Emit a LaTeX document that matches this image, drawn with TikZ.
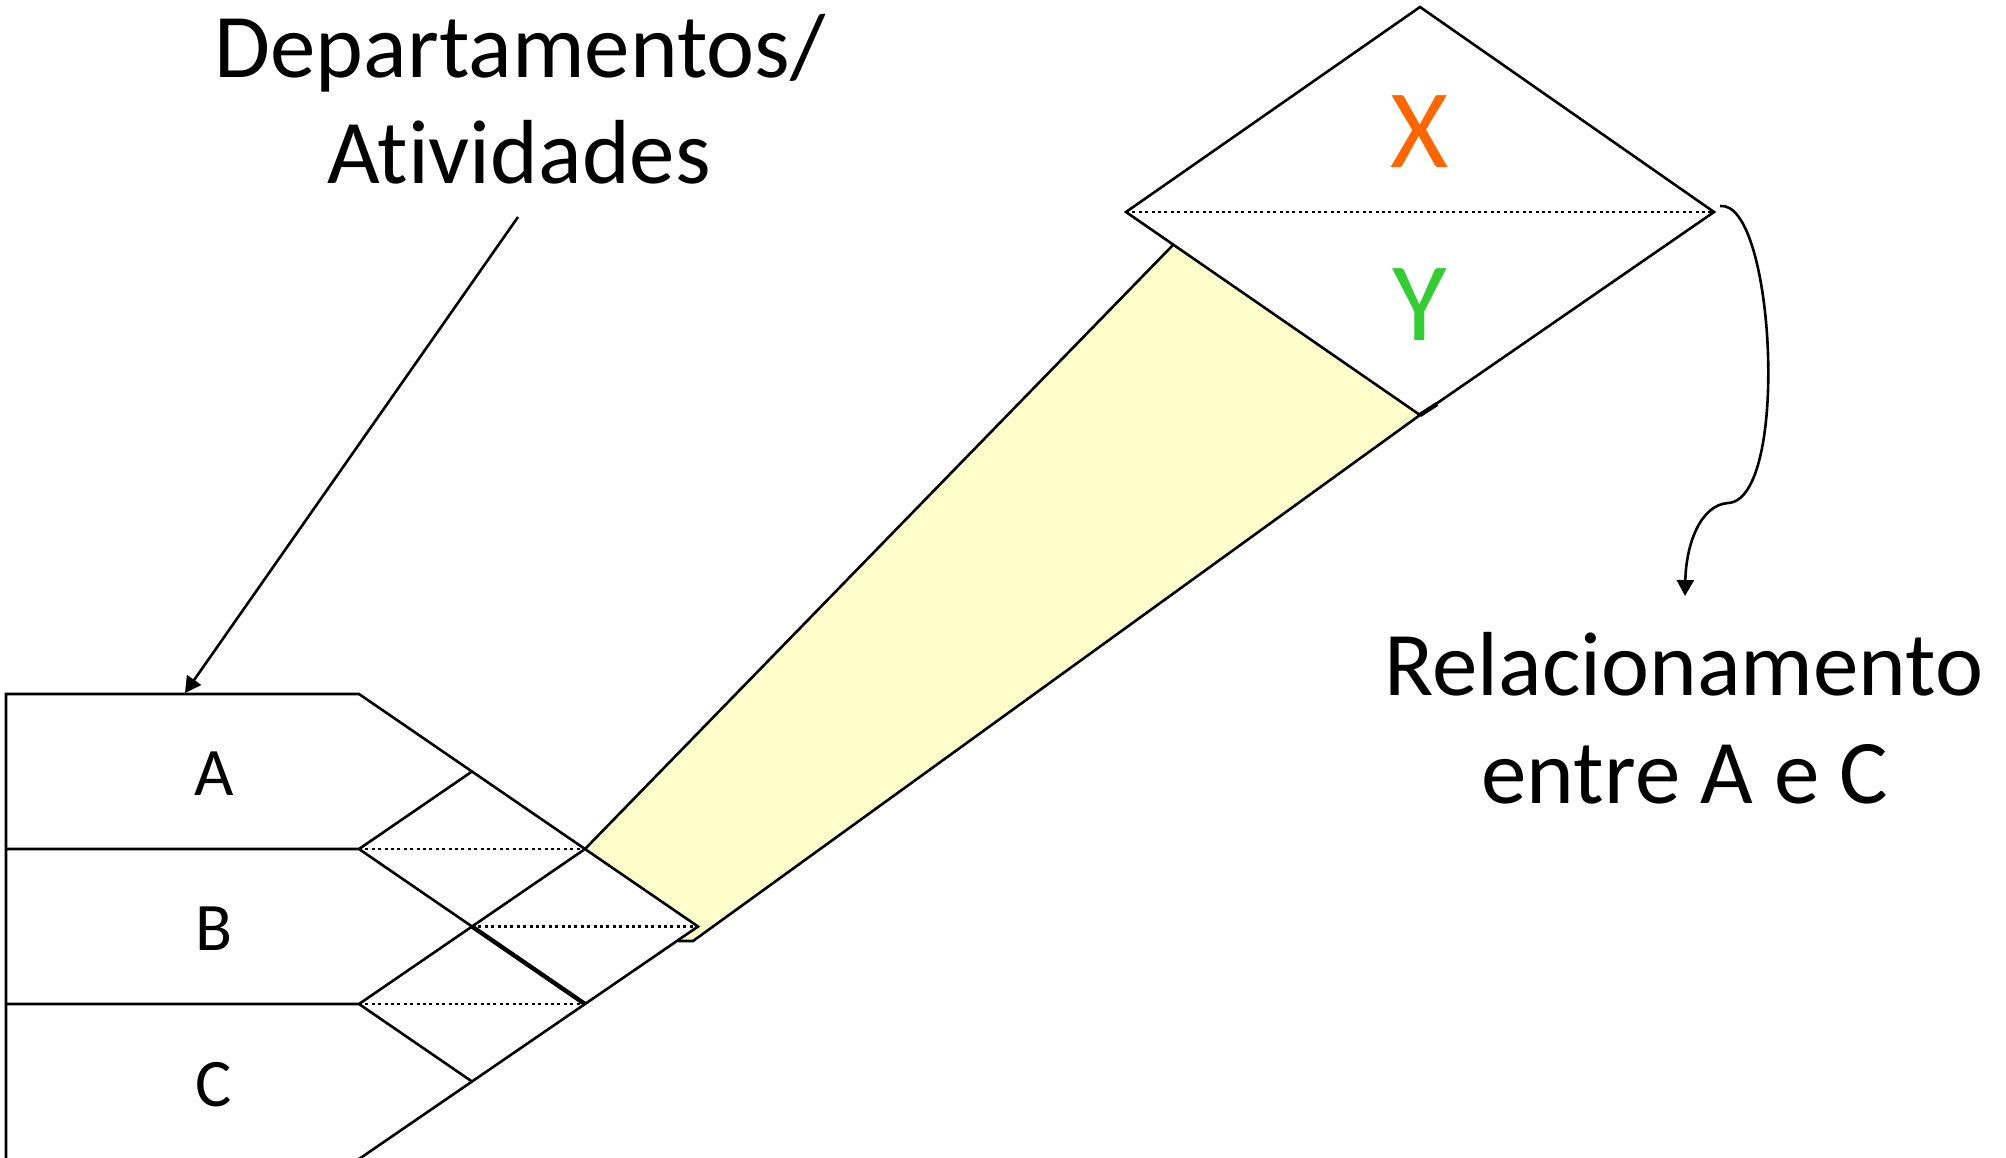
\documentclass[tikz,border=0pt]{standalone}
\usepackage{fontspec}
\setmainfont{Carlito}[Ligatures=NoCommon]
\usetikzlibrary{arrows.meta}
\definecolor{xorange}{HTML}{FF6600}
\definecolor{ygreen}{HTML}{33CC33}
\definecolor{paleyellow}{HTML}{FFFFCC}
\begin{document}
\begin{tikzpicture}[x=0.5pt,y=-0.5pt,line join=miter,
  edge/.style={line width=1.3pt},
  dots/.style={line width=1.3pt,dash pattern=on 1.5pt off 1.7pt},
  lbl/.style={font=\fontsize{45.5}{54}\selectfont,inner sep=0pt,anchor=base},
  cell/.style={font=\fontsize{34}{40}\selectfont,inner sep=0pt},
  big/.style={font=\fontsize{56}{64}\selectfont,inner sep=0pt},
  tip/.style={-{Triangle[width=8.5pt,length=8pt]}}]
\useasboundingbox (0,0) rectangle (2006,1157);

% grid points of the triangular correlation matrix
\coordinate (p00) at (359,694);
\coordinate (p11) at (472,771.5);
\coordinate (p22) at (585,849);
\coordinate (p33) at (698,926.5);
\coordinate (p02) at (359,849);
\coordinate (p13) at (472,926.5);
\coordinate (p24) at (585,1004);
\coordinate (p04) at (359,1004);
\coordinate (p15) at (472,1081.5);
\coordinate (p06) at (359,1159);
\coordinate (l0) at (6,694);
\coordinate (l2) at (6,849);
\coordinate (l4) at (6,1004);
\coordinate (lb) at (6,1160);

% enlarged cell
\coordinate (dt) at (1420,7);
\coordinate (dl) at (1126,212);
\coordinate (dr) at (1714,212);
\coordinate (db) at (1420,415);
\coordinate (dbx) at (1437,404);

% projection band
\coordinate (ya) at (1173,245);
\coordinate (yb) at (693,941);
\coordinate (yc) at (678,941);

\fill[paleyellow] (p22) -- (ya) -- (db) -- (yb) -- (yc) -- (p33) -- cycle;
\draw[edge] (p22) -- (ya);
\draw[edge] (db) -- (yb) -- (yc);

% rows and roof
\draw[edge] (lb) -- (l0) -- (p00) -- (p11) -- (p22) -- (p33) -- (p24) -- (p15) -- (p06);
\draw[edge] (l2) -- (p02) -- (p13);
\draw[line width=2.2pt] (p13) -- (p24);
\draw[edge] (p02) -- (p11);
\draw[edge] (l4) -- (p04) -- (p15);
\draw[edge] (p04) -- (p13) -- (p22);
\draw[dots] (p02) -- (p22);
\draw[dots] (p13) -- (p33);
\draw[dots] (p04) -- (p24);

\node[cell] (ra) at (214,774) {A};
\node[cell] (rb) at (214,929) {B};
\node[cell] (rc) at (214,1085) {C};

% enlarged cell with its two values
\draw[edge,fill=white] (dt) -- (dr) -- (db) -- (dl) -- cycle;
\draw[dots] (dl) -- (dr);
\draw[line width=2.2pt] (db) -- (dbx);
\node[big,text=xorange] (vx) at (1420,132) {X};
\node[big,text=ygreen] (vy) at (1420,305) {Y};

% labels
\node[lbl] (dep1) at (520,77) {Departamentos/};
\node[lbl] (dep2) at (519,183) {Atividades};
\coordinate (depa) at (518,217);
\coordinate (depb) at (185,693);
\draw[edge,tip] (depa) -- (depb);

\node[lbl] (rel1) at (1684,695) {Relacionamento};
\node[lbl] (rel2) at (1685,803) {entre A e C};
\coordinate (cs) at (1720,206);
\coordinate (ck) at (1728,503);
\coordinate (ce) at (1685,596);
\draw[edge,tip] (cs) .. controls (1775,200) and (1790,500) .. (ck)
  .. controls (1700,505) and (1686,545) .. (ce);
\end{tikzpicture}
\end{document}
